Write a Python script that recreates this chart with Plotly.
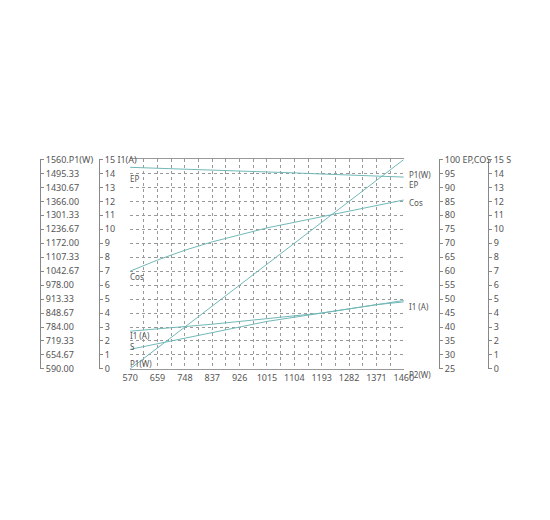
import plotly.graph_objects as go

# P2 (W) output power points
p2 = [570, 659, 748, 837, 926, 1015, 1104, 1193, 1282, 1371, 1460]
p1 = [590, 687, 784, 881, 978, 1075, 1172, 1269, 1366, 1463, 1560]
ep = [97.2, 96.9, 96.6, 96.3, 96.0, 95.6, 95.2, 94.8, 94.4, 94.0, 93.7]
cos = [60, 64, 67.5, 70.5, 73, 75.5, 77.5, 79.5, 81.5, 83.5, 85.5]
i1 = [2.7, 2.85, 3.0, 3.2, 3.4, 3.6, 3.8, 4.0, 4.3, 4.6, 4.9]
s = [1.4, 1.8, 2.2, 2.6, 3.0, 3.4, 3.7, 4.0, 4.3, 4.6, 4.8]

p1_ticks = [590 + i * 64.6667 for i in range(16)]
p1_text = ['%.2f' % v for v in p1_ticks[:-1]] + ['1560.P1(W)']
i1_text = [str(i) for i in range(15)] + ['15 I1(A)']
ep_ticks = list(range(25, 101, 5))
ep_text = [str(v) for v in ep_ticks[:-1]] + ['100 EP,COS']
s_text = [str(i) for i in range(15)] + ['15 S']

teal = '#72b8b8'
grey = '#555555'
fnt = dict(family='Noto Sans', size=9, color=grey)

fig = go.Figure()
fig.add_trace(go.Scatter(x=p2, y=i1, yaxis='y', mode='lines', line=dict(color=teal, width=1)))
fig.add_trace(go.Scatter(x=p2, y=p1, yaxis='y2', mode='lines', line=dict(color=teal, width=1)))
fig.add_trace(go.Scatter(x=p2, y=ep, yaxis='y3', mode='lines', line=dict(color=teal, width=1)))
fig.add_trace(go.Scatter(x=p2, y=cos, yaxis='y3', mode='lines', line=dict(color=teal, width=1)))
fig.add_trace(go.Scatter(x=p2, y=s, yaxis='y4', mode='lines', line=dict(color=teal, width=1)))

yax = dict(side='right', anchor='free', showgrid=False, zeroline=False, showline=True,
           linecolor='#888', ticks='outside', ticklen=3, tickcolor='#888', tickfont=fnt)

fig.update_layout(
    width=550, height=520, showlegend=False,
    margin=dict(l=0, r=0, t=0, b=0),
    plot_bgcolor='white', paper_bgcolor='white',
    xaxis=dict(domain=[0.2145, 0.729], range=[570, 1460], tickvals=p2, tickfont=fnt,
               showgrid=True, gridcolor='#999', griddash='dot', zeroline=False,
               minor=dict(dtick=44.5, tick0=570, showgrid=True, gridcolor='#999', griddash='dot'),
               showline=True, linecolor='#999', mirror=True),
    yaxis=dict(yax, domain=[0.302, 0.715], range=[0, 15], position=0.156,
               tickvals=list(range(16)), ticktext=i1_text,
               showgrid=True, gridcolor='#999', griddash='dot'),
    yaxis2=dict(yax, overlaying='y', range=[590, 1560], position=0.045,
                tickvals=p1_ticks, ticktext=p1_text),
    yaxis3=dict(yax, overlaying='y', range=[25, 100], position=0.795,
                tickvals=ep_ticks, ticktext=ep_text),
    yaxis4=dict(yax, overlaying='y', range=[0, 15], position=0.887,
                tickvals=list(range(16)), ticktext=s_text),
)

labels = [('EP', 116, 160), ('Cos', 116, 268), ('I1 (A)', 116, 329), ('S', 116, 348),
          ('P1(W)', 116, 365), ('P1(W)', 404, 156), ('EP', 404, 174), ('Cos', 404, 192),
          ('I1 (A)', 404, 299), ('P2(W)', 404, 376)]
for t, x, y in labels:
    fig.add_annotation(text=t, x=x / 550, y=1 - y / 520, xref='paper', yref='paper',
                       xanchor='left', showarrow=False,
                       font=dict(family='Noto Sans', size=8, color=grey))

fig.write_html("out.html")
